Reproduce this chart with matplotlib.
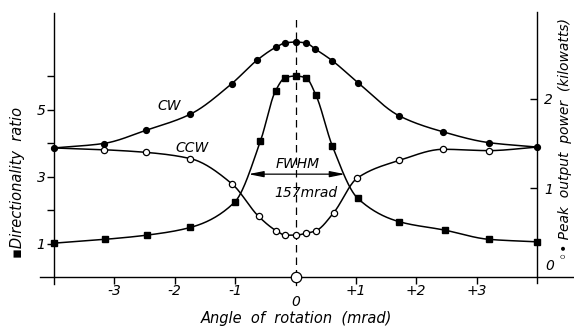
import numpy as np
import matplotlib
matplotlib.use('Agg')
import matplotlib.pyplot as plt

plt.rcParams['font.family'] = 'DejaVu Sans'
plt.rcParams['font.style'] = 'italic'
plt.rcParams['axes.unicode_minus'] = False

# peak output power, kilowatts (right axis)
x_cw = [-4, -3.18, -2.47, -1.74, -1.06, -0.63, -0.33, -0.17, 0, 0.17, 0.33, 0.61, 1.04, 1.72, 2.45, 3.2, 4]
p_cw = [1.45, 1.50, 1.65, 1.83, 2.17, 2.44, 2.58, 2.63, 2.64, 2.63, 2.56, 2.43, 2.18, 1.81, 1.63, 1.51, 1.46]
x_ccw = [-4, -3.18, -2.47, -1.74, -1.05, -0.61, -0.32, -0.17, 0, 0.17, 0.34, 0.63, 1.02, 1.72, 2.45, 3.2, 4]
p_ccw = [1.45, 1.43, 1.40, 1.33, 1.045, 0.68, 0.52, 0.47, 0.47, 0.49, 0.52, 0.72, 1.11, 1.31, 1.435, 1.42, 1.46]

# directionality ratio (left axis)
x_dir = [-4, -3.15, -2.46, -1.74, -1.01, -0.58, -0.33, -0.17, 0, 0.17, 0.34, 0.61, 1.03, 1.72, 2.47, 3.2, 4]
d_dir = [1.01, 1.125, 1.25, 1.48, 2.23, 4.06, 5.56, 5.95, 6.0, 5.95, 5.42, 3.91, 2.35, 1.65, 1.40, 1.125, 1.05]

xticks = [-3, -2, -1, 1, 2, 3]
xtick_labels = ['-3', '-2', '-1', '+1', '+2', '+3']


def smooth(x, y, n=30):
    # monotone cubic (Fritsch-Carlson) just for drawing the connecting line
    x = np.asarray(x, float)
    y = np.asarray(y, float)
    h = np.diff(x)
    dl = np.diff(y) / h
    m = np.zeros_like(y)
    m[0], m[-1] = dl[0], dl[-1]
    for i in range(1, len(y) - 1):
        if dl[i-1] * dl[i] > 0:
            w1 = 2*h[i] + h[i-1]
            w2 = h[i] + 2*h[i-1]
            m[i] = (w1 + w2) / (w1/dl[i-1] + w2/dl[i])
    xs, ys = [], []
    for i in range(len(h)):
        t = np.linspace(0, 1, n, endpoint=False)
        h00 = 2*t**3 - 3*t**2 + 1
        h10 = t**3 - 2*t**2 + t
        h01 = -2*t**3 + 3*t**2
        h11 = t**3 - t**2
        xs.append(x[i] + t*h[i])
        ys.append(h00*y[i] + h10*h[i]*m[i] + h01*y[i+1] + h11*h[i]*m[i+1])
    xs.append([x[-1]])
    ys.append([y[-1]])
    return np.concatenate(xs), np.concatenate(ys)


fig = plt.figure(figsize=(5.74, 3.29), dpi=100)
ax = fig.add_axes([54/574, 52/329, 483/574, 265/329])
ax2 = ax.twinx()

ax.set_xlim(-4, 4)
ax.set_ylim(0, 265/33.5)
ax2.set_ylim(0, 265/89)
ax.patch.set_visible(False)

# curves
sx, sy = smooth(x_dir, d_dir)
ax.plot(sx, sy, color='k', lw=1.1, clip_on=False)
ax.plot(x_dir, d_dir, 's', color='k', ms=4, clip_on=False)

sx, sy = smooth(x_cw, p_cw)
ax2.plot(sx, sy, color='k', lw=1.1, clip_on=False)
ax2.plot(x_cw, p_cw, 'o', color='k', ms=4.2, clip_on=False)

sx, sy = smooth(x_ccw, p_ccw)
ax2.plot(sx, sy, color='k', lw=1.1, clip_on=False)
ax2.plot(x_ccw[1:-1], p_ccw[1:-1], 'o', mfc='white', mec='k', mew=0.9, ms=4.5, clip_on=False)

# centre line and origin marker
ax.plot([0, 0], [0, 7.76], color='k', lw=0.9, ls=(0, (6, 4)))
ax.plot([0, 0], [-0.24, 0], color='k', lw=0.9, clip_on=False)
ax.plot([0], [0], 'o', mfc='white', mec='k', mew=0.9, ms=7.5, clip_on=False, zorder=5)

# spines
for a in (ax, ax2):
    a.spines['top'].set_visible(False)
ax.spines['right'].set_visible(False)
ax2.spines['left'].set_visible(False)
ax2.spines['bottom'].set_visible(False)
ax.spines['left'].set_bounds(-0.2, 7.88)
ax2.spines['right'].set_bounds(-0.07, 2.98)
ax.spines['bottom'].set_bounds(-4.24, 4.6)
for s in (ax.spines['left'], ax.spines['bottom'], ax2.spines['right']):
    s.set_linewidth(1.0)

# ticks
ax.set_xticks(xticks)
ax.set_xticklabels(xtick_labels)
ax.tick_params(axis='x', direction='out', length=5, width=1, pad=0, labelsize=10)
ax.set_yticks([1, 2, 3, 4, 5, 6])
ax.set_yticklabels(['1', '', '3', '', '5', ''])
ax.tick_params(axis='y', direction='out', length=5, width=1, pad=1, labelsize=10)
ax2.set_yticks([1, 2])
ax2.set_yticklabels(['1', '2'])
ax2.tick_params(axis='y', direction='in', length=5, width=1, pad=5, labelsize=10)
ax2.annotate('0', xy=(4, 0), xytext=(6, 3), textcoords='offset points',
             fontsize=10, va='bottom', ha='left')
ax.annotate('0', xy=(0, 0), xytext=(0, -13), textcoords='offset points',
            fontsize=10, va='top', ha='center')

# labels
ax.set_xlabel('Angle  of  rotation  (mrad)', fontsize=10.5)
ax.set_ylabel('\u25aaDirectionality  ratio', fontsize=10.5)
ax2.set_ylabel('\u25e6\u2022 Peak  output  power  (kilowatts)', fontsize=10, rotation=90)
ax.xaxis.set_label_coords((296-54)/483, (277-318)/265)
ax.yaxis.set_label_coords((18-54)/483, (277-182)/265)
ax2.yaxis.set_label_coords((565-54)/483, (277-139)/265)
for lab in (ax.xaxis.label, ax.yaxis.label, ax2.yaxis.label):
    lab.set_ha('center')
    lab.set_va('center')

# annotations
ax.text(-2.09, 5.1, 'CW', fontsize=10, ha='center', va='center')
ax.text(-1.72, 3.85, 'CCW', fontsize=10, ha='center', va='center')
ax.text(0.03, 3.36, 'FWHM', fontsize=10, ha='center', va='center')
ax.text(0.17, 2.52, '157mrad', fontsize=10, ha='center', va='center')
ax.annotate('', xy=(-0.78, 3.07), xytext=(0.82, 3.07),
            arrowprops=dict(arrowstyle='<|-|>,head_length=0.9,head_width=0.18',
                            color='k', lw=0.9, shrinkA=0, shrinkB=0))

fig.savefig('out.png', dpi=100, facecolor='white')
